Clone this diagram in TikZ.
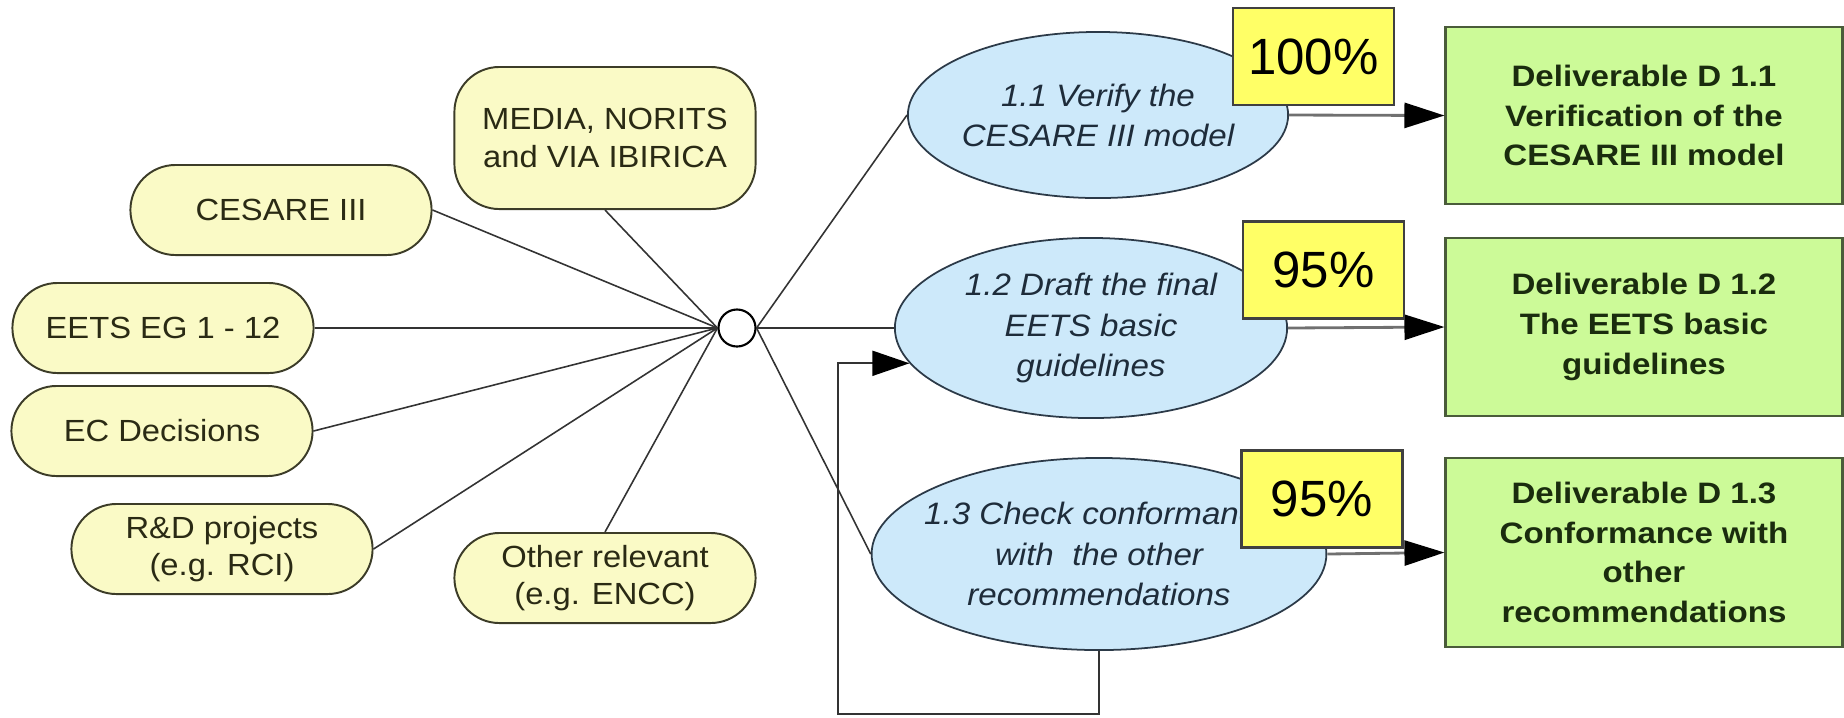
\documentclass[tikz,border=0pt]{standalone}
\usepackage{fontspec}
\setmainfont{Liberation Sans}
\newfontfamily\diagfont[FakeStretch=1.07]{Liberation Sans}
\newfontfamily\delivfont[FakeStretch=1.12]{Liberation Sans}
\usetikzlibrary{arrows.meta,shapes.geometric}
\definecolor{srcfill}{HTML}{FAFAC6}
\definecolor{srcdraw}{HTML}{3C3C28}
\definecolor{srctext}{HTML}{2A2A14}
\definecolor{taskfill}{HTML}{CDE9FA}
\definecolor{taskdraw}{HTML}{2C3A48}
\definecolor{tasktext}{HTML}{1E2C3A}
\definecolor{pctfill}{HTML}{FFFF66}
\definecolor{pctdraw}{HTML}{404040}
\definecolor{delfill}{HTML}{CCFA98}
\definecolor{deldraw}{HTML}{4A5C3A}
\definecolor{deltext}{HTML}{1A2C0E}
\definecolor{linkcol}{HTML}{333333}
\definecolor{arrcol}{HTML}{707070}
\begin{document}
\begin{tikzpicture}[x=0.01cm,y=-0.01cm,
  src/.style={draw=srcdraw, fill=srcfill, line width=0.55pt, rounded corners=0.45cm,
    minimum width=3.01cm, minimum height=0.9cm, inner sep=0pt, align=center,
    text=srctext, font=\diagfont\fontsize{8.7}{10.6}\selectfont},
  task/.style={ellipse, draw=taskdraw, fill=taskfill, line width=0.5pt,
    inner xsep=-4pt, inner ysep=0pt, align=center, text=tasktext,
    font=\diagfont\itshape\fontsize{8.8}{11.4}\selectfont},
  pct/.style={draw=pctdraw, fill=pctfill, line width=0.6pt, minimum width=1.61cm,
    minimum height=0.97cm, inner sep=0pt, text=black,
    font=\fontsize{14.5}{16}\selectfont},
  deliv/.style={draw=deldraw, fill=delfill, line width=0.8pt, minimum width=3.96cm,
    inner sep=0pt, align=center, text=deltext,
    font=\delivfont\bfseries\fontsize{8.4}{11.3}\selectfont},
  hubnode/.style={circle, draw=black, fill=white, line width=0.6pt, minimum size=0.37cm, inner sep=0pt},
  link/.style={draw=linkcol, line width=0.45pt},
  outarrow/.style={draw=arrcol, line width=0.8pt,
    -{Triangle[length=0.4cm, width=0.25cm, color=black]}},
  fbline/.style={draw=linkcol, line width=0.5pt,
    -{Triangle[length=0.37cm, width=0.25cm, color=black]}}
]
\useasboundingbox (0,0) rectangle (1844,717);

% source nodes
\node[src, minimum height=1.42cm] (media) at (605,138) {MEDIA, NORITS\\and VIA IBIRICA};
\node[src] (cesare) at (281,210) {CESARE III};
\node[src] (eets) at (163,328) {EETS EG 1 - 12};
\node[src] (ec) at (162,431) {EC Decisions};
\node[src] (rd) at (222,549) {R\&D projects\\(e.g. RCI)};
\node[src] (other) at (605,578) {Other relevant\\(e.g. ENCC)};

% hub
\node[hubnode] (hub) at (737,328) {};

% tasks
\node[task, minimum width=3.80cm, minimum height=1.66cm] (e1) at (1098,115) {1.1 Verify the\\CESARE III model};
\node[task, minimum width=3.92cm, minimum height=1.80cm] (e2) at (1091,328) {1.2 Draft the final\\EETS basic\\guidelines};
\node[task, minimum width=4.52cm, minimum height=1.92cm] (e3) at (1099,554) {1.3 Check conformance\\with\ \ the other\\recommendations};

% deliverables
\node[deliv, minimum height=1.77cm] (g1) at (1644,115.5) {Deliverable D 1.1\\Verification of the\\CESARE III model};
\node[deliv, minimum height=1.78cm] (g2) at (1644,327) {Deliverable D 1.2\\The EETS basic\\guidelines};
\node[deliv, minimum height=1.89cm] (g3) at (1644,552.5) {Deliverable D 1.3\\Conformance with\\other\\recommendations};

% hub links
\draw[link] (hub.west) -- (cesare.east);
\draw[link] (hub.west) -- (media.south);
\draw[link] (hub.west) -- (eets.east);
\draw[link] (hub.west) -- (ec.east);
\draw[link] (hub.west) -- (rd.east);
\draw[link] (hub.west) -- (other.north);
\draw[link] (hub.east) -- (e1.west);
\draw[link] (hub.east) -- (e2.west);
\draw[link] (hub.east) -- (e3.west);

% outputs
\draw[outarrow] (e1.east) -- (g1.west);
\draw[outarrow] (e2.east) -- (g2.west);
\draw[outarrow] (e3.east) -- (g3.west);

% feedback loop
\coordinate (fbl) at (838,714);
\draw[fbline] (e3.south) |- (fbl) |- (e2.191.7);

% percentages
\node[pct] (p1) at (1313.5,56.5) {100\%};
\node[pct] (p2) at (1323.5,270) {95\%};
\node[pct] (p3) at (1322,499) {95\%};
\end{tikzpicture}
\end{document}
